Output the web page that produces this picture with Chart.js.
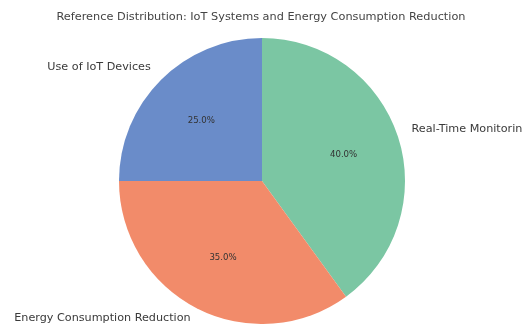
<!DOCTYPE html>
<html>
<head>
<meta charset="utf-8">
<script src="https://cdn.jsdelivr.net/npm/chart.js@4/dist/chart.umd.min.js"></script>
<style>
  html, body { margin: 0; padding: 0; background: #fff; }
  #wrap { width: 523px; height: 324px; }
</style>
</head>
<body>
<div id="wrap"><canvas id="grafico"></canvas></div>
<script>
// dados (ordem original, sentido anti-horario a partir do topo)
const titulo = 'Reference Distribution: IoT Systems and Energy Consumption Reduction';
const categorias = ['Use of IoT Devices', 'Energy Consumption Reduction', 'Real-Time Monitoring'];
const valores = [25, 35, 40];
const cores = ['#6a8cc9', '#f28b6a', '#7bc6a3'];

// Chart.js desenha no sentido horario, entao invertemos a ordem
const labelsCJ = [...categorias].reverse();
const dadosCJ = [...valores].reverse();
const coresCJ = [...cores].reverse();

const rotulosPlugin = {
    id: 'rotulos',
    afterDraw(chart) {
        const ctx = chart.ctx;
        const meta = chart.getDatasetMeta(0);
        const total = dadosCJ.reduce((a, b) => a + b, 0);
        ctx.save();
        // titulo
        ctx.font = '11.3px "DejaVu Sans"';
        ctx.fillStyle = '#444';
        ctx.textAlign = 'center';
        ctx.textBaseline = 'middle';
        ctx.fillText(titulo, 261, 17);

        meta.data.forEach((arc, i) => {
            const { x, y, startAngle, endAngle, outerRadius } = arc.getProps(['x', 'y', 'startAngle', 'endAngle', 'outerRadius'], true);
            const meio = (startAngle + endAngle) / 2;
            const cx = Math.cos(meio), cy = Math.sin(meio);
            // nome da categoria
            const lx = x + cx * outerRadius * 1.1;
            const ly = y + cy * outerRadius * 1.1 - 3;
            ctx.font = '11.2px "DejaVu Sans"';
            ctx.fillStyle = '#3a3a3a';
            ctx.textAlign = cx >= 0 ? 'left' : 'right';
            ctx.textBaseline = 'middle';
            ctx.fillText(labelsCJ[i], lx, ly);
            // percentual
            const px = x + cx * outerRadius * 0.6;
            const py = y + cy * outerRadius * 0.6;
            ctx.font = '8.6px "DejaVu Sans"';
            ctx.fillStyle = '#333';
            ctx.textAlign = 'center';
            ctx.fillText((dadosCJ[i] / total * 100).toFixed(1) + '%', px, py);
        });
        ctx.restore();
    }
};

new Chart(document.getElementById('grafico'), {
    type: 'pie',
    data: {
        labels: labelsCJ,
        datasets: [{
            data: dadosCJ,
            backgroundColor: coresCJ,
            borderWidth: 0
        }]
    },
    options: {
        responsive: true,
        maintainAspectRatio: false,
        animation: false,
        layout: { padding: { top: 38, bottom: 0, left: 119, right: 118 } },
        plugins: { legend: { display: false }, tooltip: { enabled: false } }
    },
    plugins: [rotulosPlugin]
});
</script>
</body>
</html>
